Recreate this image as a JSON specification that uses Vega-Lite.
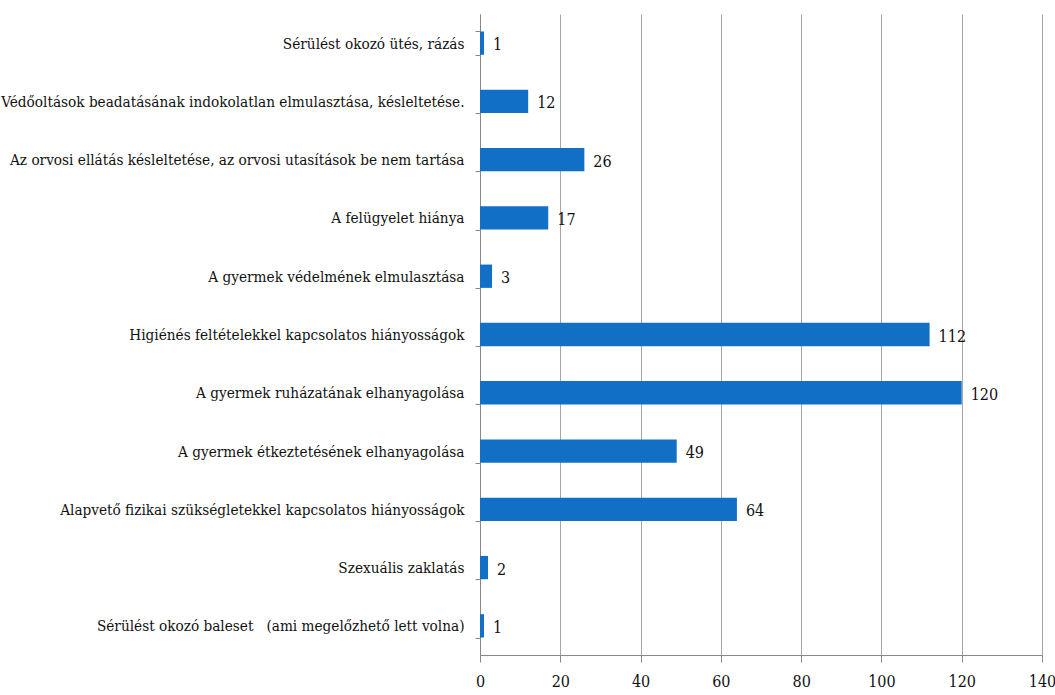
{
  "$schema": "https://vega.github.io/schema/vega-lite/v6.json",
  "autosize": {"type": "none"},
  "width": 562,
  "height": 641,
  "padding": {"left": 480, "top": 14, "right": 13, "bottom": 40},
  "background": "white",
  "data": {
    "values": [
      {"cat": "Sérülést okozó ütés, rázás", "v": 1},
      {"cat": "Védőoltások beadatásának indokolatlan elmulasztása, késleltetése.", "v": 12},
      {"cat": "Az orvosi ellátás késleltetése, az orvosi utasítások be nem tartása\u00a0", "v": 26},
      {"cat": "A felügyelet hiánya", "v": 17},
      {"cat": "A gyermek védelmének elmulasztása\u00a0", "v": 3},
      {"cat": "Higiénés feltételekkel kapcsolatos hiányosságok", "v": 112},
      {"cat": "A gyermek ruházatának elhanyagolása", "v": 120},
      {"cat": "A gyermek étkeztetésének elhanyagolása", "v": 49},
      {"cat": "Alapvető fizikai szükségletekkel kapcsolatos hiányosságok", "v": 64},
      {"cat": "Szexuális zaklatás", "v": 2},
      {"cat": "Sérülést okozó baleset \u00a0 (ami megelőzhető lett volna)", "v": 1}
    ]
  },
  "encoding": {
    "y": {
      "field": "cat",
      "type": "nominal",
      "sort": null,
      "scale": {"paddingInner": 0.6, "paddingOuter": 0.3},
      "axis": {
        "title": null,
        "labelFont": "DejaVu Serif Condensed",
        "labelFontSize": 15.2,
        "labelColor": "#111",
        "labelPadding": 11,
        "labelLimit": 0,
        "tickBand": "extent",
        "tickSize": 5,
        "tickColor": "#888",
        "domainColor": "#888",
        "grid": false
      }
    },
    "x": {
      "field": "v",
      "type": "quantitative",
      "scale": {"domain": [0, 140], "nice": false},
      "axis": {
        "title": null,
        "values": [0, 20, 40, 60, 80, 100, 120, 140],
        "labelFont": "DejaVu Serif Condensed",
        "labelFontSize": 16,
        "labelColor": "#111",
        "labelPadding": 11,
        "tickSize": 7,
        "tickColor": "#888",
        "domainColor": "#888",
        "grid": true,
        "gridColor": "#a6a6a6",
        "labelFlush": false
      }
    }
  },
  "layer": [
    {"mark": {"type": "bar", "color": "#1170C6"}},
    {
      "mark": {"type": "text", "align": "left", "baseline": "middle", "dx": 9, "dy": 2, "font": "DejaVu Serif Condensed", "fontSize": 16, "color": "#111"},
      "encoding": {"text": {"field": "v", "type": "quantitative"}}
    }
  ],
  "config": {"view": {"stroke": null}}
}
